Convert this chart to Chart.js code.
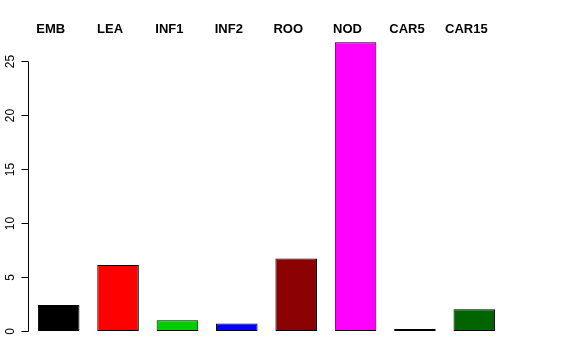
<!DOCTYPE html>
<html>
<head>
<meta charset="utf-8">
<script src="https://cdn.jsdelivr.net/npm/chart.js@4"></script>
<style>
  html, body { margin: 0; padding: 0; background: #fff; }
  #wrap { width: 576px; height: 360px; }
</style>
</head>
<body>
<div id="wrap"><canvas id="graph1"></canvas></div>
<script>
const tissues   = ["EMB", "LEA", "INF1", "INF2", "ROO", "NOD", "CAR5", "CAR15"];
const values    = [2.4, 6.1, 1.0, 0.7, 6.7, 26.7, 0.18, 2.0];
const barColors = ["#000000", "#FF0000", "#00CD00", "#0000FF", "#8B0000", "#FF00FF", "#191970", "#006400"];
const yTicks    = [0, 5, 10, 15, 20, 25];

// R-style axis: line only from first to last tick, rotated labels
const rAxis = {
    id: "rAxis",
    afterDraw(chart) {
        const ctx = chart.ctx;
        const y = chart.scales.y;
        const x0 = chart.chartArea.left;
        ctx.save();
        ctx.strokeStyle = "#000";
        ctx.lineWidth = 1;
        ctx.beginPath();
        ctx.moveTo(x0 - 0.5, Math.round(y.getPixelForValue(yTicks[0])) + 0.5);
        ctx.lineTo(x0 - 0.5, Math.round(y.getPixelForValue(yTicks[yTicks.length - 1])) + 0.5);
        ctx.stroke();
        ctx.font = "12px 'Liberation Sans', Arial, sans-serif";
        ctx.fillStyle = "#000";
        ctx.textAlign = "center";
        ctx.textBaseline = "middle";
        for (let t of yTicks) {
            const py = Math.round(y.getPixelForValue(t)) + 0.5;
            ctx.beginPath();
            ctx.moveTo(x0 - 0.5, py);
            ctx.lineTo(x0 - 7.5, py);
            ctx.stroke();
            ctx.save();
            ctx.translate(x0 - 18, py);
            ctx.rotate(-Math.PI / 2);
            ctx.fillText(String(t), 0, 0);
            ctx.restore();
        }
        // bar names along the top
        const x = chart.scales.x;
        ctx.font = "bold 13px 'Liberation Sans', Arial, sans-serif";
        ctx.textBaseline = "middle";
        tissues.forEach((name, i) => {
            ctx.fillText(name, x.getPixelForValue(i) - 8, 29);
        });
        ctx.restore();
    }
};

new Chart(document.getElementById("graph1").getContext("2d"), {
    type: "bar",
    data: {
        labels: tissues,
        datasets: [{
            data: values,
            backgroundColor: barColors,
            borderColor: "#000",
            borderWidth: 1,
            borderSkipped: false,
            barPercentage: 0.7,
            categoryPercentage: 1.0,
        }]
    },
    options: {
        responsive: true,
        maintainAspectRatio: false,
        animation: false,
        layout: { padding: { left: 29, right: 72, top: 39, bottom: 29 } },
        plugins: { legend: { display: false }, tooltip: { enabled: false } },
        scales: {
            x: {
                display: false,
            },
            y: {
                display: false,
                min: 0,
                max: 27,
            }
        }
    },
    plugins: [rAxis]
});
</script>
</body>
</html>
